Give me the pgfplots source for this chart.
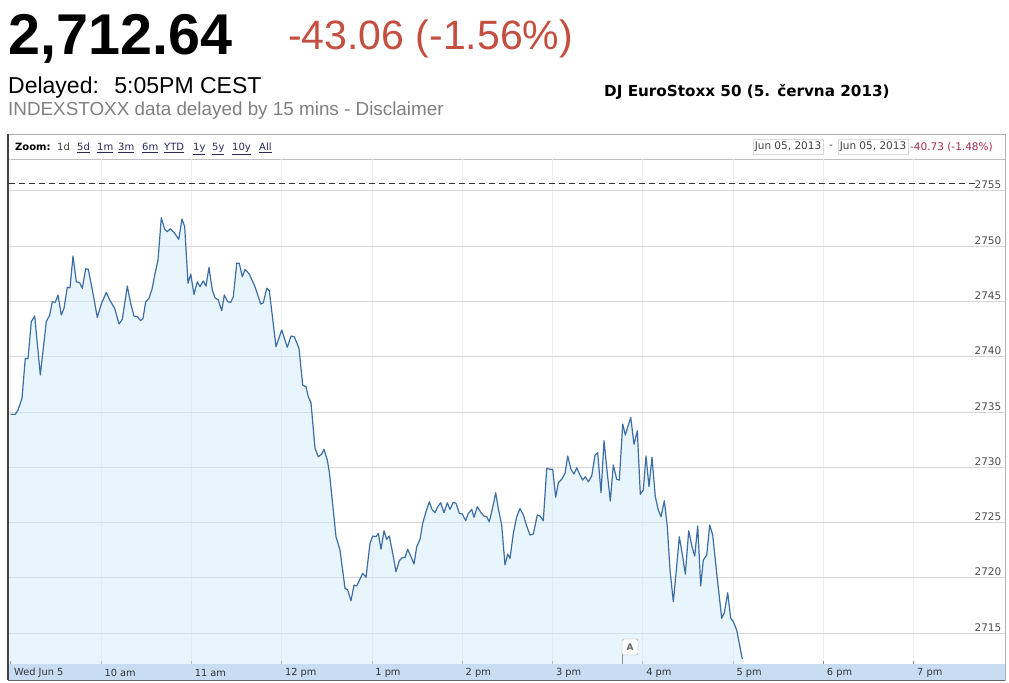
\documentclass[border=0pt]{standalone}
\usepackage{pgfplots}
\pgfplotsset{compat=1.18}
\usepackage{pgfplotstable}
\usepackage{fontspec}
\setmainfont{Liberation Sans}
\newfontfamily\dv{DejaVu Sans}
\definecolor{redq}{RGB}{196,78,64}
\definecolor{lineblue}{RGB}{60,110,165}
\definecolor{fillblue}{RGB}{209,235,251}
\definecolor{bandblue}{RGB}{200,221,242}
\definecolor{gridgray}{RGB}{215,215,215}
\definecolor{vgrid}{RGB}{238,238,238}
\definecolor{linkc}{RGB}{40,40,90}
\definecolor{maroonq}{RGB}{165,40,70}

% minutes after 9:00 CEST, index value
\pgfplotstableread{
m v
0 2734.78
3.06 2734.78
4.85 2735.17
7.51 2736.23
9.70 2739.85
11.49 2739.81
13.69 2743.16
15.95 2743.67
19.67 2738.34
23.65 2743.16
25.91 2743.76
27.64 2744.96
29.63 2744.91
31.43 2745.57
33.62 2743.76
35.42 2744.37
37.61 2746.27
39.40 2746.23
41.40 2749.10
43.59 2746.77
45.85 2746.68
47.57 2746.18
49.83 2747.95
51.56 2747.89
54.68 2745.72
57.54 2743.55
60.20 2744.76
63.52 2745.81
65.78 2745.12
69.10 2744.37
71.96 2742.95
74.15 2743.37
77.47 2746.38
79.73 2744.82
81.93 2743.67
84.12 2743.61
86.38 2743.25
87.91 2743.46
89.70 2744.96
91.89 2745.27
93.89 2746.09
95.68 2747.38
97.87 2748.73
100.07 2752.56
102.33 2751.51
104.05 2751.29
106.05 2751.56
108.97 2751.15
111.63 2750.61
113.82 2752.44
115.61 2751.75
117.81 2746.63
119.60 2747.47
121.79 2745.63
123.99 2746.77
125.78 2746.32
127.97 2746.84
129.77 2746.38
131.76 2748.07
133.95 2746.02
135.75 2745.33
137.94 2745.12
140.20 2744.15
141.93 2745.57
144.19 2744.96
146.18 2744.91
147.91 2745.42
150.17 2748.44
151.89 2748.44
153.89 2747.22
155.68 2747.89
158.54 2747.47
162.33 2746.32
166.11 2744.76
167.84 2744.87
170.10 2746.18
171.83 2745.96
176.28 2740.90
180.07 2742.41
183.79 2740.84
186.25 2741.86
188.44 2741.80
191.56 2740.75
194.02 2737.43
196.21 2737.28
197.74 2736.37
199.53 2735.83
202.19 2731.71
204.39 2730.95
206.64 2731.19
208.17 2731.62
210.37 2730.65
211.70 2729.59
216.15 2723.72
218.81 2722.51
222.13 2719.05
223.92 2718.90
226.11 2717.93
228.11 2719.35
229.90 2719.26
233.89 2720.41
236.08 2720.05
238.74 2723.12
240.53 2723.78
242.72 2723.72
244.25 2724.02
246.05 2722.58
248.04 2724.26
249.83 2723.48
251.56 2723.78
253.82 2722.22
256.01 2720.55
258.21 2721.55
260.46 2721.85
261.99 2721.82
263.79 2722.58
265.98 2721.91
267.97 2721.25
269.77 2722.81
271.96 2723.48
273.75 2724.93
275.95 2725.98
278.14 2726.88
279.93 2726.19
281.93 2725.89
283.72 2726.43
285.71 2726.79
287.91 2725.89
290.10 2726.79
291.89 2726.19
294.09 2726.83
295.88 2726.74
298.07 2725.83
300.07 2725.77
302.32 2725.16
304.05 2725.83
306.31 2726.19
307.84 2725.47
310.03 2726.43
312.49 2725.89
314.48 2725.59
316.28 2725.52
318.01 2725.07
320.26 2726.37
322.26 2727.69
323.99 2726.28
326.24 2724.77
328.43 2721.16
330.23 2722.15
331.76 2721.76
333.95 2724.02
336.21 2725.52
338.40 2726.28
340.60 2725.68
342.86 2724.68
345.05 2723.87
347.24 2723.96
349.90 2725.68
351.69 2725.59
353.89 2725.16
356.15 2729.90
358.34 2729.81
360.13 2729.81
362.13 2727.28
363.86 2728.60
366.11 2728.91
368.31 2729.45
370.10 2731.01
372.29 2729.81
374.29 2729.39
376.08 2729.95
378.27 2729.29
380.07 2728.84
381.79 2729.14
383.79 2728.69
386.05 2729.20
388.24 2731.10
390.03 2731.31
392.23 2727.69
394.22 2732.40
396.41 2729.45
398.40 2726.94
400.40 2730.20
402.66 2728.91
404.39 2728.84
406.64 2733.91
408.37 2732.91
411.96 2734.51
414.15 2732.07
416.35 2733.30
418.34 2727.55
420.33 2727.94
422.13 2731.01
424.12 2728.24
426.11 2730.90
428.31 2727.33
430.30 2726.13
432.09 2725.52
434.29 2726.97
436.28 2724.62
438.07 2720.71
440.27 2717.84
442.52 2721.07
444.25 2723.72
446.51 2721.91
448.24 2720.34
450.50 2724.26
452.69 2722.81
454.48 2721.97
456.48 2724.68
458.47 2719.26
460.20 2721.61
462.46 2722.06
464.45 2724.77
466.44 2723.87
469.10 2720.41
472.42 2716.34
474.15 2716.84
476.41 2718.65
478.40 2716.34
480.14 2716.03
482.39 2715.28
486.11 2712.66
}\stoxx

\begin{document}
\begin{tikzpicture}[x=1bp,y=1bp]
\path[use as bounding box] (0,0) rectangle (1009,683);
% header
\node[anchor=base west, inner sep=0] at (8,628) {\fontsize{57.5bp}{60bp}\selectfont\bfseries 2,712.64};
\node[anchor=base west, inner sep=0, text=redq] at (288,633) {\fontsize{41bp}{44bp}\selectfont -43.06 (-1.56\%)};
\node[anchor=base west, inner sep=0] at (8,589) {\fontsize{23bp}{25bp}\selectfont Delayed:\hspace{7bp} 5:05PM CEST};
\node[anchor=base west, inner sep=0, text=black!50] at (8,567) {\fontsize{18.85bp}{21bp}\selectfont INDEXSTOXX data delayed by 15 mins - Disclaimer};
\node[anchor=base west, inner sep=0] at (604,586) {\dv\bfseries\fontsize{15.2bp}{17bp}\selectfont DJ EuroStoxx 50 (5. června 2013)};
% frame and bands
\fill[bandblue] (9,3) rectangle (1005,19);
\draw[black!30, line width=0.8bp] (8,3) rectangle (1005,549);
\draw[black!25, line width=0.8bp] (8,524) -- (1005,524);
\draw[black!75, line width=1.5bp] (8,3) -- (8,549);
\draw[black!60, line width=0.8bp] (8,3) -- (1005,3);
% zoom bar
\node[anchor=base west, inner sep=0, font=\dv\bfseries\fontsize{10bp}{12bp}\selectfont] at (15,532) {Zoom:};
\node[anchor=base west, inner sep=0, text=black!75, font=\dv\fontsize{10bp}{12bp}\selectfont] at (57,532) {1d};
\foreach \xx/\tt in {77/5d,97/1m,118/3m,142/6m,164/YTD,193/1y,212/5y,232/10y,259/All}
  \node[anchor=base west, inner sep=0, text=linkc, font=\dv\fontsize{10bp}{12bp}\selectfont] at (\xx,532) {\underline{\tt}};
\node[draw=black!15, fill=white, inner xsep=2bp, inner ysep=2.5bp, text=black!75, font=\dv\fontsize{10.5bp}{12bp}\selectfont] at (788,536) {Jun 05, 2013};
\node[text=black!75, font=\dv\fontsize{10.5bp}{12bp}\selectfont] at (831,536) {-};
\node[draw=black!15, fill=white, inner xsep=2bp, inner ysep=2.5bp, text=black!75, font=\dv\fontsize{10.5bp}{12bp}\selectfont] at (873,536) {Jun 05, 2013};
\node[anchor=base west, inner sep=0, text=maroonq, font=\dv\fontsize{10.5bp}{12bp}\selectfont] at (910,532) {-40.73 (-1.48\%)};

\begin{axis}[
  at={(9bp,19bp)}, anchor=south west, scale only axis,
  width=996bp, height=505bp,
  xmin=-1.13, xmax=660.66, ymin=2712.21, ymax=2757.87,
  axis line style={draw=none},
  xtick={0,60,...,600},
  xticklabels={Wed Jun 5,10 am,11 am,12 pm,1 pm,2 pm,3 pm,4 pm,5 pm,6 pm,7 pm},
  xtick pos=left, tick align=inside, major tick length=3bp,
  xtick style={black!45, line width=0.7bp},
  xticklabel style={anchor=west, yshift=-9bp, text=black!80, font=\dv\fontsize{9.8bp}{11bp}\selectfont},
  ytick={2715,2720,...,2755},
  yticklabels={2715,2720,2725,2730,2735,2740,2745,2750,2755},
  yticklabel pos=right, ytick style={draw=none},
  yticklabel style={anchor=south east, inner sep=1.5bp, xshift=-2bp, text=black!70, font=\dv\fontsize{10.5bp}{12bp}\selectfont},
  grid=major,
  x grid style={vgrid, line width=0.8bp},
  y grid style={gridgray, line width=0.8bp},
]
\addplot[draw=none, fill=fillblue, fill opacity=0.5] table[x=m,y=v]{\stoxx} \closedcycle;
\addplot[lineblue, line width=1.2bp, line join=round] table[x=m,y=v]{\stoxx};
\addplot[black!80, line width=0.7bp, dash pattern=on 6bp off 4bp] coordinates {(-1.13,2755.7) (640.7,2755.7)};
\end{axis}
% event flag
\draw[black!45, line width=0.7bp] (622,19) -- (622,28);
\node[draw=black!40, fill=white, rounded corners=1.5bp, minimum width=16bp, minimum height=16bp, inner sep=0, text=black!60, font=\dv\bfseries\fontsize{9bp}{10bp}\selectfont] at (630,36) {A};
\end{tikzpicture}
\end{document}
